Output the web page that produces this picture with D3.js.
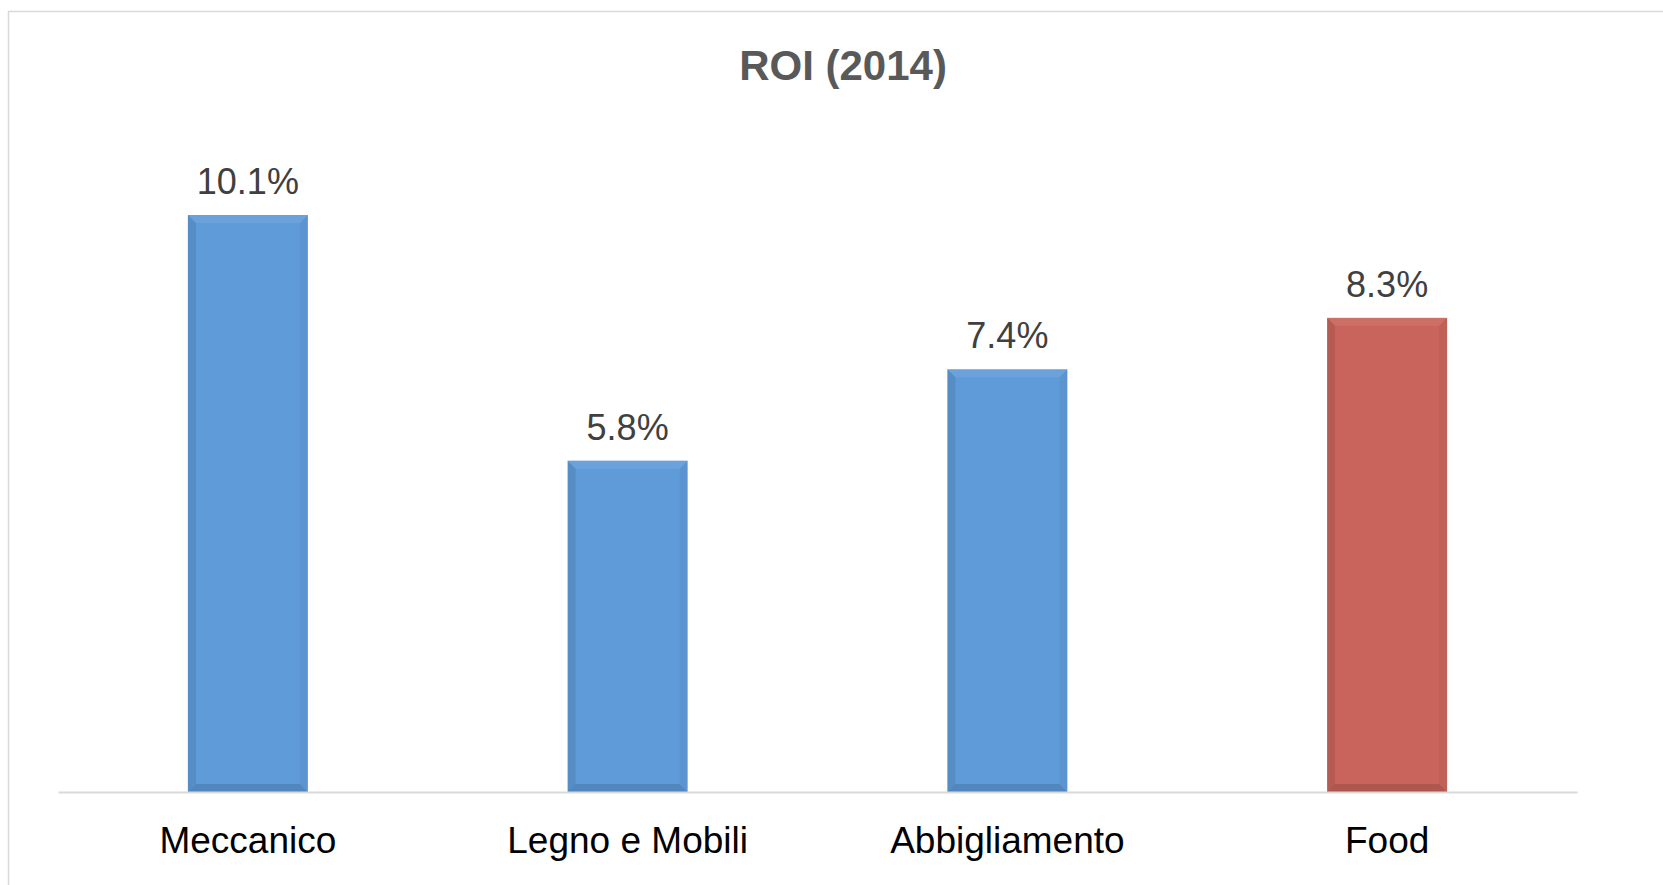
<!DOCTYPE html>
<meta charset="utf-8">
<style>
    body { margin: 0; background: #fff; }
    text { font-family: "Liberation Sans", Arial, sans-serif; }
</style>
<svg width="1663" height="885"></svg>
<script src="https://d3js.org/d3.v7.min.js"></script>
<script>

    var categories = ["Meccanico", "Legno e Mobili", "Abbigliamento", "Food"];
    var roi = [10.1, 5.8, 7.4, 8.3];
    var barColors = ["#5f9bd9", "#5f9bd9", "#5f9bd9", "#c8645b"];

    var svg = d3.select("svg"),
        width = +svg.attr("width"),
        height = +svg.attr("height");

    // chart frame (right and bottom edges fall outside the picture)
    svg.append("rect")
        .attr("x", 8.5)
        .attr("y", 11.5)
        .attr("width", width)
        .attr("height", height)
        .attr("fill", "#fff")
        .attr("stroke", "#d9d9d9")
        .attr("stroke-width", 1.5);

    var x = d3.scaleBand()
        .domain(categories)
        .range([58, 1577])
        .paddingInner(0.684)
        .paddingOuter(0.342);

    var y = d3.scaleLinear()
        .domain([0, 10.1])
        .range([792, 215]);

    svg.append("text")
        .attr("x", 843)
        .attr("y", 80)
        .attr("text-anchor", "middle")
        .attr("font-size", 42)
        .attr("font-weight", "bold")
        .attr("fill", "#595959")
        .text("ROI (2014)");

    var data = categories.map(function(c, i) { return {cat: c, v: roi[i], color: barColors[i]}; });

    var bars = svg.append("g").selectAll("g")
        .data(data)
        .enter()
        .append("g");

    var bev = 8;

    bars.append("rect")
        .attr("x", function(d) { return x(d.cat); })
        .attr("y", function(d) { return y(d.v); })
        .attr("width", x.bandwidth())
        .attr("height", function(d) { return y(0) - y(d.v); })
        .attr("fill", function(d) { return d.color; });

    // bevel edges: top light, left dark, right slightly dark, bottom dark
    bars.append("polygon")
        .attr("points", function(d) {
            var x0 = x(d.cat), x1 = x0 + x.bandwidth(), y0 = y(d.v);
            return [[x0, y0], [x1, y0], [x1 - bev, y0 + bev], [x0 + bev, y0 + bev]].join(" ");
        })
        .attr("fill", "#fff")
        .attr("opacity", 0.08);

    bars.append("polygon")
        .attr("points", function(d) {
            var x0 = x(d.cat), y0 = y(d.v), y1 = y(0);
            return [[x0, y0], [x0 + bev, y0 + bev], [x0 + bev, y1 - bev], [x0, y1]].join(" ");
        })
        .attr("fill", "#000")
        .attr("opacity", 0.09);

    bars.append("polygon")
        .attr("points", function(d) {
            var x1 = x(d.cat) + x.bandwidth(), y0 = y(d.v), y1 = y(0);
            return [[x1, y0], [x1 - bev, y0 + bev], [x1 - bev, y1 - bev], [x1, y1]].join(" ");
        })
        .attr("fill", "#000")
        .attr("opacity", 0.04);

    bars.append("polygon")
        .attr("points", function(d) {
            var x0 = x(d.cat), x1 = x0 + x.bandwidth(), y1 = y(0);
            return [[x0, y1], [x1, y1], [x1 - bev, y1 - bev], [x0 + bev, y1 - bev]].join(" ");
        })
        .attr("fill", "#000")
        .attr("opacity", 0.13);

    bars.append("text")
        .attr("x", function(d) { return x(d.cat) + x.bandwidth() / 2; })
        .attr("y", function(d) { return y(d.v) - 21; })
        .attr("text-anchor", "middle")
        .attr("font-size", 36)
        .attr("fill", "#404040")
        .text(function(d) { return d.v.toFixed(1) + "%"; });

    // category axis
    var axis = svg.append("g")
        .attr("transform", "translate(0," + y(0) + ")")
        .call(d3.axisBottom(x).tickSize(0).tickPadding(0));
    axis.select(".domain")
        .attr("stroke", "#d9d9d9")
        .attr("stroke-width", 2);
    axis.selectAll("text")
        .attr("font-family", "Liberation Sans, Arial, sans-serif")
        .attr("font-size", 37)
        .attr("fill", "#000")
        .attr("dy", null)
        .attr("y", 61);

</script>
